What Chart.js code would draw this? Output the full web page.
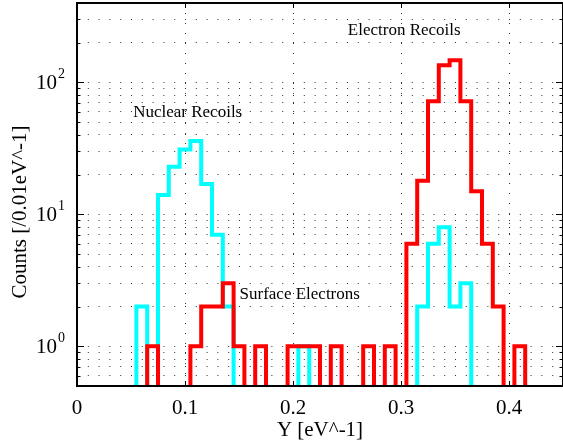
<!DOCTYPE html>
<html>
<head>
<meta charset="utf-8">
<script src="https://cdn.jsdelivr.net/npm/chart.js@4.4.0/dist/chart.umd.min.js"></script>
<style>
body { margin: 0; background: #fff; }
canvas { display: block; }
</style>
</head>
<body>
<canvas id="histChart" width="563" height="442"></canvas>
<script>
// bin centres, width 0.01 eV^-1
var binCenters = [0.06, 0.07, 0.08, 0.09, 0.10, 0.11, 0.12, 0.13, 0.14, 0.15, 0.16, 0.17,
                  0.18, 0.19, 0.20, 0.21, 0.22, 0.23, 0.24, 0.25, 0.26, 0.27, 0.28, 0.29,
                  0.30, 0.31, 0.32, 0.33, 0.34, 0.35, 0.36, 0.37, 0.38, 0.39, 0.40, 0.41];
var nuclearCounts = [2, 0, 14, 23, 31, 36, 17, 7, 2, 0, 0, 0,
                     0, 0, 0, 1, 0, 0, 0, 0, 0, 0, 0, 0,
                     0, 0, 2, 6, 8, 2, 3, 0, 0, 0, 0, 0];
var electronCounts = [0, 1, 0, 0, 0, 1, 2, 2, 3, 1, 0, 1,
                      0, 0, 1, 1, 1, 0, 1, 0, 0, 1, 0, 1,
                      0, 6, 18, 72, 135, 147, 72, 15, 6, 2, 0, 1];
var binWidth = 0.01;

var xTickValues = [0, 0.1, 0.2, 0.3, 0.4];
var xTickLabels = ['0', '0.1', '0.2', '0.3', '0.4'];
var yGridValues = [0.6, 0.7, 0.8, 0.9, 1, 2, 3, 4, 5, 6, 7, 8, 9,
                   10, 20, 30, 40, 50, 60, 70, 80, 90, 100, 200, 300];
var yDecades = [1, 10, 100];
var yDecadeExp = ['0', '1', '2'];

var annotations = [
    { text: 'Nuclear Recoils', x: 0.1025, y: 59, align: 'center' },
    { text: 'Electron Recoils', x: 0.303, y: 248, align: 'center' },
    { text: 'Surface Electrons', x: 0.1505, y: 2.48, align: 'left' }
];

var FONT = '"Liberation Serif", "Times New Roman", serif';

// outline of a histogram: empty bins go below the axis
function stepPoints(counts) {
    var low = 0.1;
    var pts = [{ x: binCenters[0] - binWidth / 2, y: low }];
    for (var i = 0; i < binCenters.length; i++) {
        pts.push({ x: binCenters[i] - binWidth / 2, y: counts[i] > 0 ? counts[i] : low });
    }
    pts.push({ x: binCenters[binCenters.length - 1] + binWidth / 2, y: low });
    return pts;
}

var framePlugin = {
    id: 'framePlugin',
    afterDraw: function(chart) {
        var ctx = chart.ctx, area = chart.chartArea;
        var xs = chart.scales.x, ys = chart.scales.y;
        ctx.save();

        // tick marks inside the frame
        ctx.strokeStyle = '#000';
        ctx.lineWidth = 1;
        ctx.beginPath();
        yGridValues.forEach(function(v) {
            var y = Math.round(ys.getPixelForValue(v)) + 0.5;
            var len = yDecades.indexOf(v) >= 0 ? 7 : 3.5;
            ctx.moveTo(area.left, y); ctx.lineTo(area.left + len, y);
            ctx.moveTo(area.right, y); ctx.lineTo(area.right - len, y);
        });
        xTickValues.forEach(function(v) {
            var x = Math.round(xs.getPixelForValue(v)) + 0.5;
            ctx.moveTo(x, area.bottom); ctx.lineTo(x, area.bottom - 5);
            ctx.moveTo(x, area.top); ctx.lineTo(x, area.top + 5);
        });
        ctx.stroke();

        // frame
        ctx.lineWidth = 2;
        ctx.strokeRect(area.left, area.top, area.right - area.left, area.bottom - area.top);

        ctx.fillStyle = '#000';
        // x tick labels
        ctx.font = '21px ' + FONT;
        ctx.textAlign = 'center';
        ctx.textBaseline = 'middle';
        xTickValues.forEach(function(v, i) {
            ctx.fillText(xTickLabels[i], xs.getPixelForValue(v), 408);
        });
        // y tick labels 10^n
        yDecades.forEach(function(v, i) {
            var y = ys.getPixelForValue(v);
            ctx.font = '21px ' + FONT;
            ctx.textAlign = 'right';
            ctx.fillText('10', area.left - 20, y + 1);
            ctx.font = '14px ' + FONT;
            ctx.textAlign = 'left';
            ctx.fillText(yDecadeExp[i], area.left - 19, y - 8);
        });
        // axis titles
        ctx.font = '21px ' + FONT;
        ctx.textAlign = 'center';
        ctx.fillText('Y [eV^-1]', (area.left + area.right) / 2, 430);
        ctx.save();
        ctx.translate(20, 212);
        ctx.rotate(-Math.PI / 2);
        ctx.fillText('Counts [/0.01eV^-1]', 0, 0);
        ctx.restore();
        // labels in the plot
        ctx.font = '17px ' + FONT;
        annotations.forEach(function(a) {
            ctx.textAlign = a.align;
            ctx.fillText(a.text, xs.getPixelForValue(a.x), ys.getPixelForValue(a.y));
        });
        ctx.restore();
    }
};

var histChart = new Chart(document.getElementById('histChart'), {
    type: 'line',
    data: {
        datasets: [{
            label: 'Electron Recoils',
            data: stepPoints(electronCounts),
            borderColor: '#ff0000',
            borderWidth: 4,
            stepped: true,
            pointRadius: 0,
            fill: false,
            clip: 0
        }, {
            label: 'Nuclear Recoils',
            data: stepPoints(nuclearCounts),
            borderColor: '#00ffff',
            borderWidth: 4,
            stepped: true,
            pointRadius: 0,
            fill: false,
            clip: 0
        }]
    },
    options: {
        responsive: false,
        animation: false,
        devicePixelRatio: 1,
        layout: { padding: { top: 3, right: 0, left: 0, bottom: 0 } },
        plugins: {
            legend: { display: false },
            tooltip: { enabled: false }
        },
        scales: {
            x: {
                type: 'linear',
                min: 0,
                max: 0.45,
                afterBuildTicks: function(scale) {
                    scale.ticks = xTickValues.map(function(v) { return { value: v }; });
                },
                afterFit: function(scale) { scale.height = 56; },
                ticks: { display: false },
                grid: { color: '#333', lineWidth: 1, drawTicks: false },
                border: { display: false, dash: [1, 9] }
            },
            y: {
                type: 'logarithmic',
                min: 0.5,
                max: 400,
                afterBuildTicks: function(scale) {
                    scale.ticks = yGridValues.map(function(v) { return { value: v }; });
                },
                afterFit: function(scale) { scale.width = 77; },
                ticks: { display: false },
                grid: { color: '#333', lineWidth: 1, drawTicks: false },
                border: { display: false, dash: [1, 9.8] }
            }
        }
    },
    plugins: [framePlugin]
});
</script>
</body>
</html>
